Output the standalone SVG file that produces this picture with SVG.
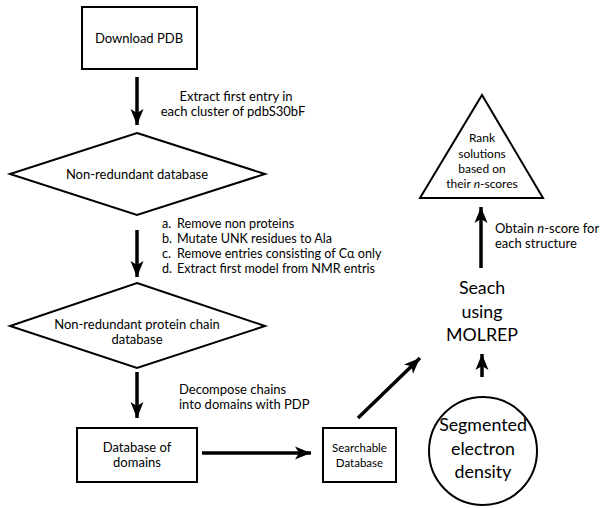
<svg xmlns="http://www.w3.org/2000/svg" width="600" height="508" viewBox="0 0 600 508">
<style>
text{font-family:Lato,"Open Sans","Liberation Sans",sans-serif;fill:#000}
.s{fill:#fff;stroke:#000;stroke-width:2}
.c{stroke:#000;stroke-width:3.5;fill:none}
.t13{font-size:13px}
.tl{font-size:12.6px}
.t12{font-size:12px}
.t11{font-size:11.5px}
.big{font-size:17.8px}
</style>
<defs>
<marker id="ah" markerUnits="userSpaceOnUse" markerWidth="20" markerHeight="16" viewBox="-16 -8 20 16" refX="0" refY="0" orient="auto">
<path d="M0,0 L-16,-6.5 L-12,0 L-16,6.5 Z" fill="#000"/>
</marker>
</defs>
<rect width="600" height="508" fill="#fff"/>
<g id="connectors">
<line class="c" x1="137" y1="77" x2="137" y2="125" marker-end="url(#ah)"/>
<line class="c" x1="137" y1="230" x2="137" y2="277" marker-end="url(#ah)"/>
<line class="c" x1="137" y1="372" x2="137" y2="418" marker-end="url(#ah)"/>
<line class="c" x1="202" y1="453" x2="311" y2="453" marker-end="url(#ah)"/>
<line class="c" x1="358" y1="418" x2="420" y2="358" marker-end="url(#ah)"/>
<line class="c" x1="482" y1="377" x2="482" y2="354" marker-end="url(#ah)"/>
<line class="c" x1="481" y1="268" x2="481" y2="207" marker-end="url(#ah)"/>
</g>
<g id="download">
<rect class="s" x="82" y="7" width="115" height="62"/>
<text class="t13" x="139" y="43" text-anchor="middle">Download PDB</text>
</g>
<g id="label-extract">
<text class="t13" x="236" y="101" text-anchor="middle">Extract first entry in</text>
<text class="t13" x="233" y="116" text-anchor="middle">each cluster of pdbS30bF</text>
</g>
<g id="nonredundant">
<polygon class="s" points="137,133 265,174 137,215 10,174"/>
<text class="t13" x="137" y="179" text-anchor="middle">Non-redundant database</text>
</g>
<g id="label-list" class="tl">
<text x="162" y="228">a.</text><text x="177" y="228">Remove non proteins</text>
<text x="162" y="243">b.</text><text x="177" y="243">Mutate UNK residues to Ala</text>
<text x="162" y="258">c.</text><text x="177" y="258">Remove entries consisting of Cα only</text>
<text x="162" y="273">d.</text><text x="177" y="273">Extract first model from NMR entris</text>
</g>
<g id="chain-db">
<polygon class="s" points="137,283 265,326 137,368 10,326"/>
<text class="t13" x="137" y="329" text-anchor="middle">Non-redundant protein chain</text>
<text class="t13" x="137" y="344" text-anchor="middle">database</text>
</g>
<g id="label-decompose">
<text class="t13" x="179" y="394">Decompose chains</text>
<text class="t13" x="179" y="409">into domains with PDP</text>
</g>
<g id="domains">
<rect class="s" x="77" y="428" width="120" height="54"/>
<text class="t13" x="137" y="452" text-anchor="middle">Database of</text>
<text class="t13" x="137" y="467" text-anchor="middle">domains</text>
</g>
<g id="searchable">
<rect class="s" x="323" y="428" width="73" height="54"/>
<text class="t11" x="359.5" y="452" text-anchor="middle">Searchable</text>
<text class="t11" x="359.5" y="467" text-anchor="middle">Database</text>
</g>
<g id="density">
<circle class="s" cx="483" cy="451" r="54"/>
<text class="big" x="483" y="431" text-anchor="middle">Segmented</text>
<text class="big" x="483" y="455" text-anchor="middle">electron</text>
<text class="big" x="483" y="478" text-anchor="middle">density</text>
</g>
<g id="search">
<text class="big" x="482" y="294" text-anchor="middle">Seach</text>
<text class="big" x="482" y="318" text-anchor="middle">using</text>
<text class="big" x="482" y="341" text-anchor="middle">MOLREP</text>
</g>
<g id="label-obtain">
<text class="t13" x="495" y="233">Obtain <tspan font-style="italic">n</tspan>-score for</text>
<text class="t13" x="495" y="248">each structure</text>
</g>
<g id="rank">
<polygon class="s" points="482,95 543,198 420,198"/>
<text class="t12" x="482" y="142" text-anchor="middle">Rank</text>
<text class="t12" x="482" y="158" text-anchor="middle">solutions</text>
<text class="t12" x="482" y="173" text-anchor="middle">based on</text>
<text class="t12" x="482" y="188" text-anchor="middle">their <tspan font-style="italic">n</tspan>-scores</text>
</g>
</svg>
